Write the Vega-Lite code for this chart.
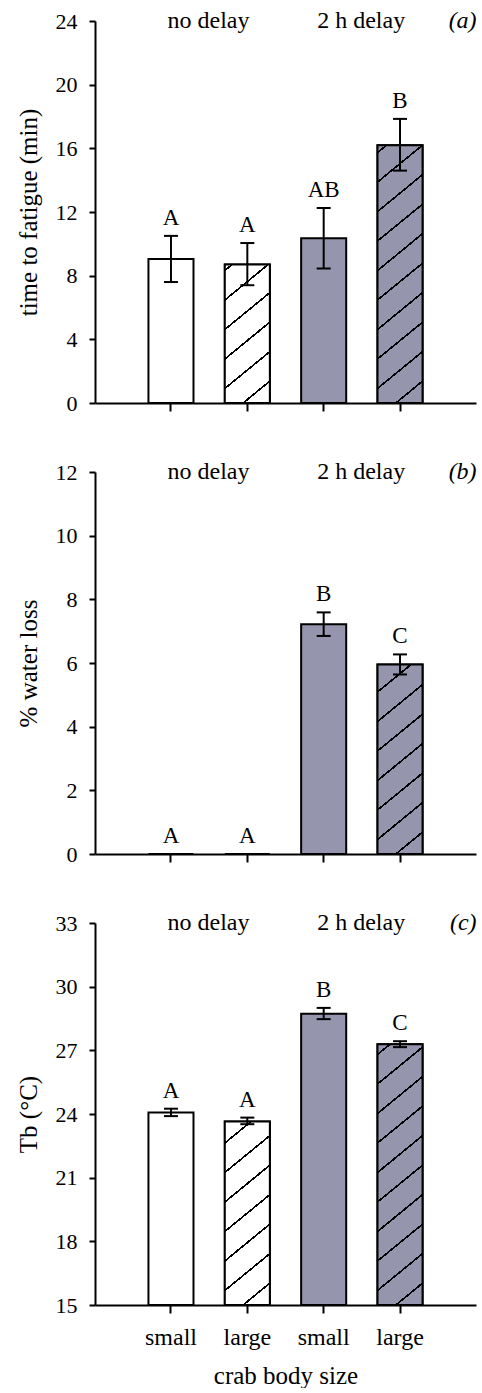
{
  "$schema": "https://vega.github.io/schema/vega-lite/v6.json",
  "padding": {"top": 9, "left": 16, "right": 2, "bottom": 0},
  "spacing": 46,
  "datasets": {
    "a": [
      {"cat": "no|small", "delay": "no", "mean": 9.05, "lo": 7.6, "hi": 10.5, "letter": "A"},
      {"cat": "no|large", "delay": "no", "mean": 8.7, "lo": 7.4, "hi": 10.05, "letter": "A"},
      {"cat": "2h|small", "delay": "2h", "mean": 10.35, "lo": 8.45, "hi": 12.25, "letter": "AB"},
      {"cat": "2h|large", "delay": "2h", "mean": 16.2, "lo": 14.6, "hi": 17.85, "letter": "B"}
    ],
    "b": [
      {"cat": "no|small", "delay": "no", "mean": 0, "lo": 0, "hi": 0, "letter": "A"},
      {"cat": "no|large", "delay": "no", "mean": 0, "lo": 0, "hi": 0, "letter": "A"},
      {"cat": "2h|small", "delay": "2h", "mean": 7.22, "lo": 6.85, "hi": 7.59, "letter": "B"},
      {"cat": "2h|large", "delay": "2h", "mean": 5.95, "lo": 5.64, "hi": 6.27, "letter": "C"}
    ],
    "c": [
      {"cat": "no|small", "delay": "no", "mean": 24.07, "lo": 23.9, "hi": 24.25, "letter": "A"},
      {"cat": "no|large", "delay": "no", "mean": 23.65, "lo": 23.52, "hi": 23.83, "letter": "A"},
      {"cat": "2h|small", "delay": "2h", "mean": 28.72, "lo": 28.47, "hi": 29.0, "letter": "B"},
      {"cat": "2h|large", "delay": "2h", "mean": 27.29, "lo": 27.15, "hi": 27.43, "letter": "C"}
    ],
    "ann": [
      {"cat": "no|small", "label": "no delay"},
      {"cat": "2h|small", "label": "2 h delay"}
    ],
    "tag": [
      {"panel": "a", "cat": "2h|large", "label": "(a)"},
      {"panel": "b", "cat": "2h|large", "label": "(b)"},
      {"panel": "c", "cat": "2h|large", "label": "(c)"}
    ]
  },
  "vconcat": [
    {
      "width": 381, "height": 382,
      "data": {"name": "a"},
      "layer": [
        {"mark": {"type": "bar", "stroke": "black", "strokeWidth": 2},
         "encoding": {
           "x": {"field": "cat", "type": "nominal", "scale": {"domain": ["no|small", "no|large", "2h|small", "2h|large"], "paddingInner": 0.41, "paddingOuter": 0.7}, "axis": {"labels": false, "title": null}},
           "y": {"field": "mean", "type": "quantitative", "scale": {"domain": [0, 24], "nice": false, "zero": false}, "axis": {"values": [0, 4, 8, 12, 16, 20, 24], "title": "time to fatigue (min)"}},
           "y2": {"datum": 0},
           "fill": {"field": "delay", "type": "nominal", "scale": {"domain": ["no", "2h"], "range": ["white", "#9595AD"]}, "legend": null}
         }},
        {"transform": [{"filter": "datum.cat == 'no|large'"}],
         "mark": {"type": "bar", "stroke": "black", "strokeWidth": 2, "fill": {"gradient": "linear", "x1": 0, "y1": 0, "x2": 0.3151, "y2": 1.1825, "stops": [
           {"offset": 0, "color": "white"},
           {"offset": 0.0279, "color": "white"}, {"offset": 0.0279, "color": "black"}, {"offset": 0.0405, "color": "black"}, {"offset": 0.0405, "color": "white"},
           {"offset": 0.1961, "color": "white"}, {"offset": 0.1961, "color": "black"}, {"offset": 0.2087, "color": "black"}, {"offset": 0.2087, "color": "white"},
           {"offset": 0.3643, "color": "white"}, {"offset": 0.3643, "color": "black"}, {"offset": 0.3769, "color": "black"}, {"offset": 0.3769, "color": "white"},
           {"offset": 0.5325, "color": "white"}, {"offset": 0.5325, "color": "black"}, {"offset": 0.5451, "color": "black"}, {"offset": 0.5451, "color": "white"},
           {"offset": 0.7007, "color": "white"}, {"offset": 0.7007, "color": "black"}, {"offset": 0.7133, "color": "black"}, {"offset": 0.7133, "color": "white"},
           {"offset": 0.8688, "color": "white"}, {"offset": 0.8688, "color": "black"}, {"offset": 0.8814, "color": "black"}, {"offset": 0.8814, "color": "white"},
           {"offset": 1, "color": "white"}]}},
         "encoding": {"x": {"field": "cat", "type": "nominal"}, "y": {"field": "mean", "type": "quantitative"}, "y2": {"datum": 0}}},
        {"transform": [{"filter": "datum.cat == '2h|large'"}],
         "mark": {"type": "bar", "stroke": "black", "strokeWidth": 2, "fill": {"gradient": "linear", "x1": 0, "y1": 0, "x2": 0.1603, "y2": 1.1201, "stops": [
           {"offset": 0, "color": "#9595AD"},
           {"offset": 0.0214, "color": "#9595AD"}, {"offset": 0.0214, "color": "black"}, {"offset": 0.0288, "color": "black"}, {"offset": 0.0288, "color": "#9595AD"},
           {"offset": 0.1215, "color": "#9595AD"}, {"offset": 0.1215, "color": "black"}, {"offset": 0.1289, "color": "black"}, {"offset": 0.1289, "color": "#9595AD"},
           {"offset": 0.2215, "color": "#9595AD"}, {"offset": 0.2215, "color": "black"}, {"offset": 0.2289, "color": "black"}, {"offset": 0.2289, "color": "#9595AD"},
           {"offset": 0.3216, "color": "#9595AD"}, {"offset": 0.3216, "color": "black"}, {"offset": 0.3290, "color": "black"}, {"offset": 0.3290, "color": "#9595AD"},
           {"offset": 0.4217, "color": "#9595AD"}, {"offset": 0.4217, "color": "black"}, {"offset": 0.4291, "color": "black"}, {"offset": 0.4291, "color": "#9595AD"},
           {"offset": 0.5217, "color": "#9595AD"}, {"offset": 0.5217, "color": "black"}, {"offset": 0.5291, "color": "black"}, {"offset": 0.5291, "color": "#9595AD"},
           {"offset": 0.6218, "color": "#9595AD"}, {"offset": 0.6218, "color": "black"}, {"offset": 0.6292, "color": "black"}, {"offset": 0.6292, "color": "#9595AD"},
           {"offset": 0.7219, "color": "#9595AD"}, {"offset": 0.7219, "color": "black"}, {"offset": 0.7293, "color": "black"}, {"offset": 0.7293, "color": "#9595AD"},
           {"offset": 0.8219, "color": "#9595AD"}, {"offset": 0.8219, "color": "black"}, {"offset": 0.8293, "color": "black"}, {"offset": 0.8293, "color": "#9595AD"},
           {"offset": 0.9220, "color": "#9595AD"}, {"offset": 0.9220, "color": "black"}, {"offset": 0.9294, "color": "black"}, {"offset": 0.9294, "color": "#9595AD"},
           {"offset": 1, "color": "#9595AD"}]}},
         "encoding": {"x": {"field": "cat", "type": "nominal"}, "y": {"field": "mean", "type": "quantitative"}, "y2": {"datum": 0}}},
        {"mark": {"type": "rule", "strokeWidth": 2, "color": "black"},
         "encoding": {"x": {"field": "cat", "type": "nominal"}, "y": {"field": "lo", "type": "quantitative"}, "y2": {"field": "hi"}}},
        {"mark": {"type": "tick", "thickness": 2, "size": 14, "color": "black", "opacity": 1},
         "encoding": {"x": {"field": "cat", "type": "nominal"}, "y": {"field": "lo", "type": "quantitative"}}},
        {"mark": {"type": "tick", "thickness": 2, "size": 14, "color": "black", "opacity": 1},
         "encoding": {"x": {"field": "cat", "type": "nominal"}, "y": {"field": "hi", "type": "quantitative"}}},
        {"mark": {"type": "text", "baseline": "bottom", "dy": -6, "fontSize": 23},
         "encoding": {"x": {"field": "cat", "type": "nominal"}, "y": {"field": "hi", "type": "quantitative"}, "text": {"field": "letter"}}},
        {"data": {"name": "ann"},
         "mark": {"type": "text", "fontSize": 24, "baseline": "middle"},
         "encoding": {"x": {"field": "cat", "type": "nominal", "bandPosition": 1.333}, "y": {"datum": 24}, "text": {"field": "label"}}},
        {"data": {"name": "tag"}, "transform": [{"filter": "datum.panel == 'a'"}],
         "mark": {"type": "text", "fontSize": 24, "baseline": "middle", "align": "right", "fontStyle": "italic"},
         "encoding": {"x": {"field": "cat", "type": "nominal", "bandPosition": 2.2}, "y": {"datum": 24}, "text": {"field": "label"}}}
      ]
    },
    {
      "width": 381, "height": 382,
      "data": {"name": "b"},
      "layer": [
        {"mark": {"type": "bar", "stroke": "black", "strokeWidth": 2},
         "encoding": {
           "x": {"field": "cat", "type": "nominal", "scale": {"domain": ["no|small", "no|large", "2h|small", "2h|large"], "paddingInner": 0.41, "paddingOuter": 0.7}, "axis": {"labels": false, "title": null}},
           "y": {"field": "mean", "type": "quantitative", "scale": {"domain": [0, 12], "nice": false, "zero": false}, "axis": {"values": [0, 2, 4, 6, 8, 10, 12], "title": "% water loss"}},
           "y2": {"datum": 0},
           "fill": {"field": "delay", "type": "nominal", "scale": {"domain": ["no", "2h"], "range": ["white", "#9595AD"]}, "legend": null}
         }},
        {"transform": [{"filter": "datum.cat == '2h|large'"}],
         "mark": {"type": "bar", "stroke": "black", "strokeWidth": 2, "fill": {"gradient": "linear", "x1": 0, "y1": 0, "x2": 0.2243, "y2": 1.1511, "stops": [
           {"offset": 0, "color": "#9595AD"},
           {"offset": 0.1162, "color": "#9595AD"}, {"offset": 0.1162, "color": "black"}, {"offset": 0.1260, "color": "black"}, {"offset": 0.1260, "color": "#9595AD"},
           {"offset": 0.2465, "color": "#9595AD"}, {"offset": 0.2465, "color": "black"}, {"offset": 0.2563, "color": "black"}, {"offset": 0.2563, "color": "#9595AD"},
           {"offset": 0.3769, "color": "#9595AD"}, {"offset": 0.3769, "color": "black"}, {"offset": 0.3867, "color": "black"}, {"offset": 0.3867, "color": "#9595AD"},
           {"offset": 0.5073, "color": "#9595AD"}, {"offset": 0.5073, "color": "black"}, {"offset": 0.5171, "color": "black"}, {"offset": 0.5171, "color": "#9595AD"},
           {"offset": 0.6376, "color": "#9595AD"}, {"offset": 0.6376, "color": "black"}, {"offset": 0.6474, "color": "black"}, {"offset": 0.6474, "color": "#9595AD"},
           {"offset": 0.7680, "color": "#9595AD"}, {"offset": 0.7680, "color": "black"}, {"offset": 0.7778, "color": "black"}, {"offset": 0.7778, "color": "#9595AD"},
           {"offset": 0.8983, "color": "#9595AD"}, {"offset": 0.8983, "color": "black"}, {"offset": 0.9081, "color": "black"}, {"offset": 0.9081, "color": "#9595AD"},
           {"offset": 1, "color": "#9595AD"}]}},
         "encoding": {"x": {"field": "cat", "type": "nominal"}, "y": {"field": "mean", "type": "quantitative"}, "y2": {"datum": 0}}},
        {"mark": {"type": "rule", "strokeWidth": 2, "color": "black"},
         "encoding": {"x": {"field": "cat", "type": "nominal"}, "y": {"field": "lo", "type": "quantitative"}, "y2": {"field": "hi"}}},
        {"mark": {"type": "tick", "thickness": 2, "size": 14, "color": "black", "opacity": 1},
         "encoding": {"x": {"field": "cat", "type": "nominal"}, "y": {"field": "lo", "type": "quantitative"}}},
        {"mark": {"type": "tick", "thickness": 2, "size": 14, "color": "black", "opacity": 1},
         "encoding": {"x": {"field": "cat", "type": "nominal"}, "y": {"field": "hi", "type": "quantitative"}}},
        {"mark": {"type": "text", "baseline": "bottom", "dy": -6, "fontSize": 23},
         "encoding": {"x": {"field": "cat", "type": "nominal"}, "y": {"field": "hi", "type": "quantitative"}, "text": {"field": "letter"}}},
        {"data": {"name": "ann"},
         "mark": {"type": "text", "fontSize": 24, "baseline": "middle"},
         "encoding": {"x": {"field": "cat", "type": "nominal", "bandPosition": 1.333}, "y": {"datum": 12}, "text": {"field": "label"}}},
        {"data": {"name": "tag"}, "transform": [{"filter": "datum.panel == 'b'"}],
         "mark": {"type": "text", "fontSize": 24, "baseline": "middle", "align": "right", "fontStyle": "italic"},
         "encoding": {"x": {"field": "cat", "type": "nominal", "bandPosition": 2.2}, "y": {"datum": 12}, "text": {"field": "label"}}}
      ]
    },
    {
      "width": 381, "height": 382,
      "data": {"name": "c"},
      "layer": [
        {"mark": {"type": "bar", "stroke": "black", "strokeWidth": 2},
         "encoding": {
           "x": {"field": "cat", "type": "nominal", "scale": {"domain": ["no|small", "no|large", "2h|small", "2h|large"], "paddingInner": 0.41, "paddingOuter": 0.7}, "axis": {"labelExpr": "split(datum.value, '|')[1]", "title": "crab body size"}},
           "y": {"field": "mean", "type": "quantitative", "scale": {"domain": [15, 33], "nice": false, "zero": false}, "axis": {"values": [15, 18, 21, 24, 27, 30, 33], "title": "Tb (°C)"}},
           "y2": {"datum": 15},
           "fill": {"field": "delay", "type": "nominal", "scale": {"domain": ["no", "2h"], "range": ["white", "#9595AD"]}, "legend": null}
         }},
        {"transform": [{"filter": "datum.cat == 'no|large'"}],
         "mark": {"type": "bar", "stroke": "black", "strokeWidth": 2, "fill": {"gradient": "linear", "x1": 0, "y1": 0, "x2": 0.2320, "y2": 1.1543, "stops": [
           {"offset": 0, "color": "white"},
           {"offset": 0.0930, "color": "white"}, {"offset": 0.0930, "color": "black"}, {"offset": 0.1030, "color": "black"}, {"offset": 0.1030, "color": "white"},
           {"offset": 0.2267, "color": "white"}, {"offset": 0.2267, "color": "black"}, {"offset": 0.2367, "color": "black"}, {"offset": 0.2367, "color": "white"},
           {"offset": 0.3605, "color": "white"}, {"offset": 0.3605, "color": "black"}, {"offset": 0.3705, "color": "black"}, {"offset": 0.3705, "color": "white"},
           {"offset": 0.4943, "color": "white"}, {"offset": 0.4943, "color": "black"}, {"offset": 0.5043, "color": "black"}, {"offset": 0.5043, "color": "white"},
           {"offset": 0.6281, "color": "white"}, {"offset": 0.6281, "color": "black"}, {"offset": 0.6381, "color": "black"}, {"offset": 0.6381, "color": "white"},
           {"offset": 0.7619, "color": "white"}, {"offset": 0.7619, "color": "black"}, {"offset": 0.7719, "color": "black"}, {"offset": 0.7719, "color": "white"},
           {"offset": 0.8957, "color": "white"}, {"offset": 0.8957, "color": "black"}, {"offset": 0.9057, "color": "black"}, {"offset": 0.9057, "color": "white"},
           {"offset": 1, "color": "white"}]}},
         "encoding": {"x": {"field": "cat", "type": "nominal"}, "y": {"field": "mean", "type": "quantitative"}, "y2": {"datum": 15}}},
        {"transform": [{"filter": "datum.cat == '2h|large'"}],
         "mark": {"type": "bar", "stroke": "black", "strokeWidth": 2, "fill": {"gradient": "linear", "x1": 0, "y1": 0, "x2": 0.1583, "y2": 1.1191, "stops": [
           {"offset": 0, "color": "#9595AD"},
           {"offset": 0.0309, "color": "#9595AD"}, {"offset": 0.0309, "color": "black"}, {"offset": 0.0383, "color": "black"}, {"offset": 0.0383, "color": "#9595AD"},
           {"offset": 0.1300, "color": "#9595AD"}, {"offset": 0.1300, "color": "black"}, {"offset": 0.1374, "color": "black"}, {"offset": 0.1374, "color": "#9595AD"},
           {"offset": 0.2291, "color": "#9595AD"}, {"offset": 0.2291, "color": "black"}, {"offset": 0.2365, "color": "black"}, {"offset": 0.2365, "color": "#9595AD"},
           {"offset": 0.3282, "color": "#9595AD"}, {"offset": 0.3282, "color": "black"}, {"offset": 0.3356, "color": "black"}, {"offset": 0.3356, "color": "#9595AD"},
           {"offset": 0.4273, "color": "#9595AD"}, {"offset": 0.4273, "color": "black"}, {"offset": 0.4347, "color": "black"}, {"offset": 0.4347, "color": "#9595AD"},
           {"offset": 0.5264, "color": "#9595AD"}, {"offset": 0.5264, "color": "black"}, {"offset": 0.5338, "color": "black"}, {"offset": 0.5338, "color": "#9595AD"},
           {"offset": 0.6255, "color": "#9595AD"}, {"offset": 0.6255, "color": "black"}, {"offset": 0.6329, "color": "black"}, {"offset": 0.6329, "color": "#9595AD"},
           {"offset": 0.7246, "color": "#9595AD"}, {"offset": 0.7246, "color": "black"}, {"offset": 0.7320, "color": "black"}, {"offset": 0.7320, "color": "#9595AD"},
           {"offset": 0.8236, "color": "#9595AD"}, {"offset": 0.8236, "color": "black"}, {"offset": 0.8310, "color": "black"}, {"offset": 0.8310, "color": "#9595AD"},
           {"offset": 0.9227, "color": "#9595AD"}, {"offset": 0.9227, "color": "black"}, {"offset": 0.9301, "color": "black"}, {"offset": 0.9301, "color": "#9595AD"},
           {"offset": 1, "color": "#9595AD"}]}},
         "encoding": {"x": {"field": "cat", "type": "nominal"}, "y": {"field": "mean", "type": "quantitative"}, "y2": {"datum": 15}}},
        {"mark": {"type": "rule", "strokeWidth": 2, "color": "black"},
         "encoding": {"x": {"field": "cat", "type": "nominal"}, "y": {"field": "lo", "type": "quantitative"}, "y2": {"field": "hi"}}},
        {"mark": {"type": "tick", "thickness": 2, "size": 14, "color": "black", "opacity": 1},
         "encoding": {"x": {"field": "cat", "type": "nominal"}, "y": {"field": "lo", "type": "quantitative"}}},
        {"mark": {"type": "tick", "thickness": 2, "size": 14, "color": "black", "opacity": 1},
         "encoding": {"x": {"field": "cat", "type": "nominal"}, "y": {"field": "hi", "type": "quantitative"}}},
        {"mark": {"type": "text", "baseline": "bottom", "dy": -6, "fontSize": 23},
         "encoding": {"x": {"field": "cat", "type": "nominal"}, "y": {"field": "hi", "type": "quantitative"}, "text": {"field": "letter"}}},
        {"data": {"name": "ann"},
         "mark": {"type": "text", "fontSize": 24, "baseline": "middle"},
         "encoding": {"x": {"field": "cat", "type": "nominal", "bandPosition": 1.333}, "y": {"datum": 33}, "text": {"field": "label"}}},
        {"data": {"name": "tag"}, "transform": [{"filter": "datum.panel == 'c'"}],
         "mark": {"type": "text", "fontSize": 24, "baseline": "middle", "align": "right", "fontStyle": "italic"},
         "encoding": {"x": {"field": "cat", "type": "nominal", "bandPosition": 2.2}, "y": {"datum": 33}, "text": {"field": "label"}}}
      ]
    }
  ],
  "config": {
    "font": "Liberation Serif",
    "view": {"stroke": null},
    "axis": {"domainColor": "black", "domainWidth": 2, "tickColor": "black", "tickWidth": 2, "labelColor": "black", "labelFontSize": 22, "labelFont": "Liberation Serif", "titleFont": "Liberation Serif", "titleFontSize": 25, "titleFontWeight": "normal", "titleColor": "black", "grid": false},
    "axisX": {"tickSize": 8, "labelPadding": 12, "titlePadding": 14, "labelAngle": 0, "labelFontSize": 24},
    "axisY": {"tickSize": 6, "labelPadding": 12, "titlePadding": 14},
    "text": {"font": "Liberation Serif", "color": "black"}
  }
}
